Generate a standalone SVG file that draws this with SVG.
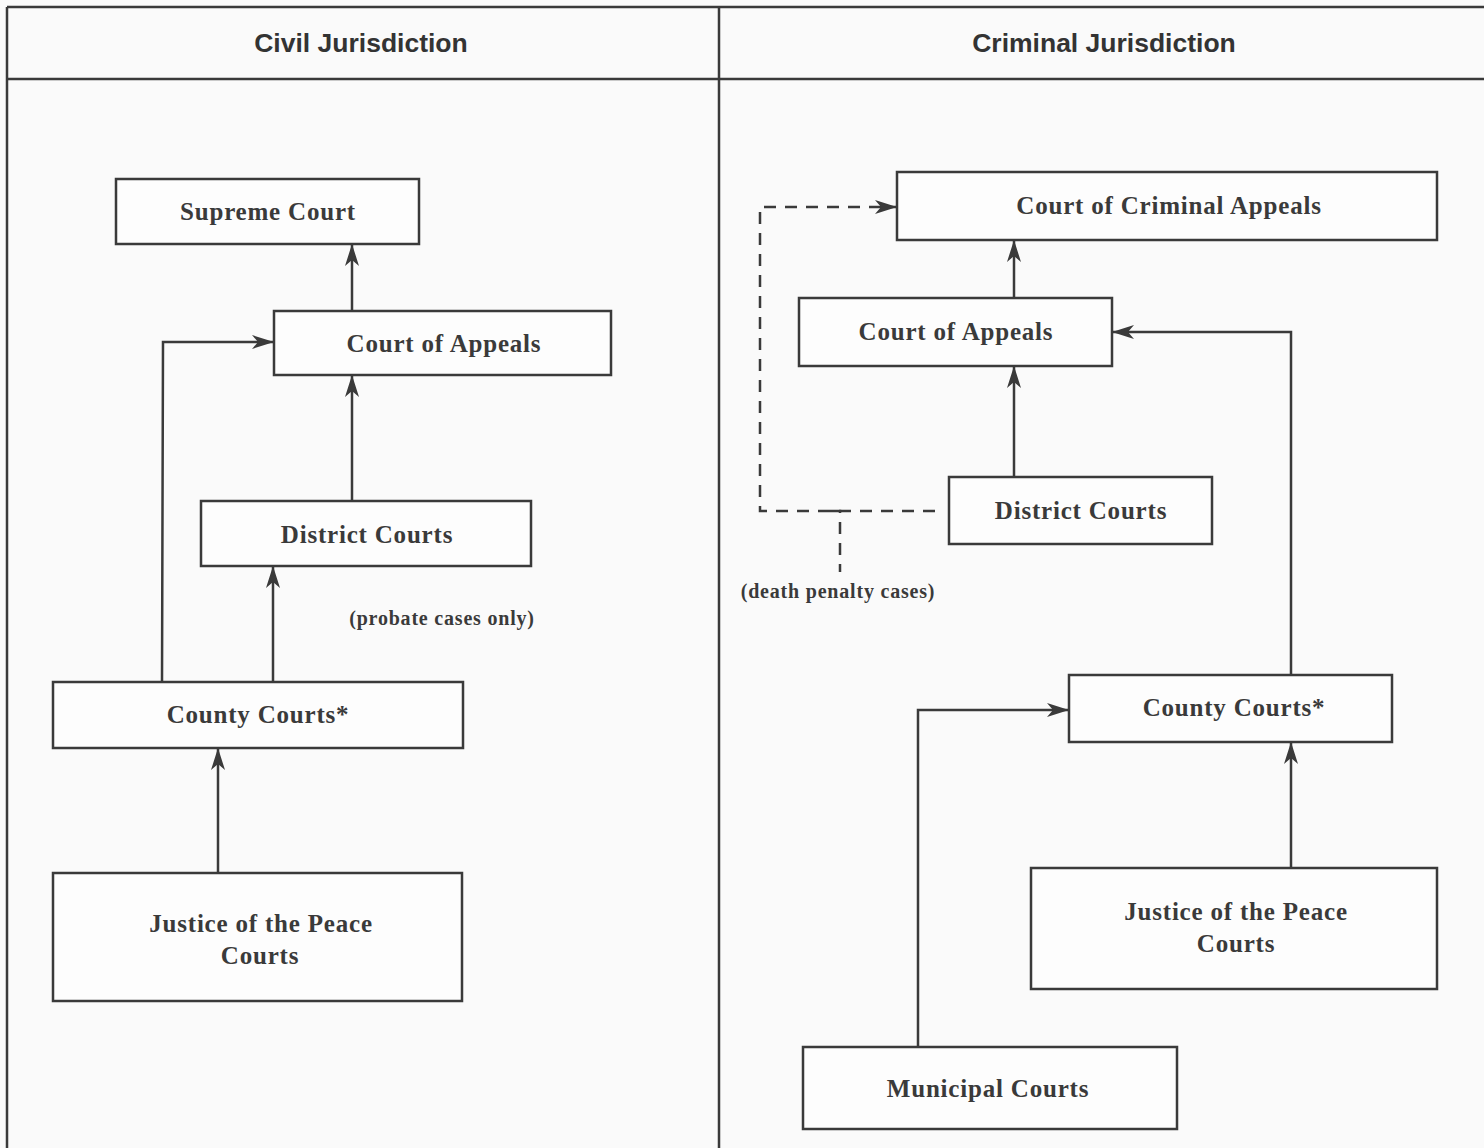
<svg xmlns="http://www.w3.org/2000/svg" width="1484" height="1148" viewBox="0 0 1484 1148">
<style>
.frame{fill:none;stroke:#3a3a3a;stroke-width:2.5}
.box{fill:#fdfdfd;stroke:#3a3a3a;stroke-width:2.5}
.hdr{font-family:"Liberation Sans",Arial,sans-serif;font-weight:bold;font-size:26.5px;fill:#333;text-anchor:middle}
.lbl{font-family:"Liberation Serif","Times New Roman",serif;font-weight:bold;font-size:25px;fill:#3a3a3a;text-anchor:middle;letter-spacing:0.8px}
.note{font-family:"Liberation Serif","Times New Roman",serif;font-weight:bold;font-size:20px;fill:#3a3a3a;text-anchor:middle;letter-spacing:0.8px}
.ln{fill:none;stroke:#3a3a3a;stroke-width:2.5}
.dash{fill:none;stroke:#3a3a3a;stroke-width:2.5;stroke-dasharray:12 9}
</style>
<defs>
<marker id="ah" viewBox="0 0 22 14" refX="21" refY="7" markerWidth="22" markerHeight="14" markerUnits="userSpaceOnUse" orient="auto">
<path d="M0,0 L22,7 L0,14 L6,7 z" fill="#3a3a3a"/>
</marker>
</defs>
<rect width="1484" height="1148" fill="#fafafa"/>
<g id="frame">
<line class="frame" x1="7" y1="7" x2="1484" y2="7"/>
<line class="frame" x1="7" y1="79" x2="1484" y2="79"/>
<line class="frame" x1="7" y1="7" x2="7" y2="1148"/>
<line class="frame" x1="719" y1="7" x2="719" y2="1148"/>
<text class="hdr" x="361" y="52">Civil Jurisdiction</text>
<text class="hdr" x="1104" y="52">Criminal Jurisdiction</text>
</g>
<g id="connectors">
<line class="ln" x1="352" y1="311" x2="352" y2="245" marker-end="url(#ah)"/>
<line class="ln" x1="352" y1="501" x2="352" y2="376" marker-end="url(#ah)"/>
<line class="ln" x1="273" y1="682" x2="273" y2="567" marker-end="url(#ah)"/>
<polyline class="ln" points="162,682 163,342 273,342" marker-end="url(#ah)"/>
<line class="ln" x1="218" y1="873" x2="218" y2="749" marker-end="url(#ah)"/>
<line class="ln" x1="1014" y1="298" x2="1014" y2="241" marker-end="url(#ah)"/>
<line class="ln" x1="1014" y1="477" x2="1014" y2="367" marker-end="url(#ah)"/>
<polyline class="ln" points="1291,675 1291,332 1113,332" marker-end="url(#ah)"/>
<line class="ln" x1="1291" y1="868" x2="1291" y2="743" marker-end="url(#ah)"/>
<polyline class="ln" points="918,1047 918,710 1068,710" marker-end="url(#ah)"/>
<polyline class="dash" points="935,511 760,511 760,207 896,207" marker-end="url(#ah)"/>
<polyline class="dash" points="830,511 840,511 840,572"/>
<text class="note" x="442" y="625">(probate cases only)</text>
<text class="note" x="838" y="598">(death penalty cases)</text>
</g>
<g id="civil-supreme"><rect class="box" x="116" y="179" width="303" height="65"/><text class="lbl" x="268" y="220">Supreme Court</text></g>
<g id="civil-appeals"><rect class="box" x="274" y="311" width="337" height="64"/><text class="lbl" x="444" y="352">Court of Appeals</text></g>
<g id="civil-district"><rect class="box" x="201" y="501" width="330" height="65"/><text class="lbl" x="367" y="543">District Courts</text></g>
<g id="civil-county"><rect class="box" x="53" y="682" width="410" height="66"/><text class="lbl" x="258" y="723">County Courts*</text></g>
<g id="civil-jp"><rect class="box" x="53" y="873" width="409" height="128"/><text class="lbl" x="261" y="932">Justice of the Peace</text><text class="lbl" x="260" y="964">Courts</text></g>
<g id="crim-cca"><rect class="box" x="897" y="172" width="540" height="68"/><text class="lbl" x="1169" y="214">Court of Criminal Appeals</text></g>
<g id="crim-appeals"><rect class="box" x="799" y="298" width="313" height="68"/><text class="lbl" x="956" y="340">Court of Appeals</text></g>
<g id="crim-district"><rect class="box" x="949" y="477" width="263" height="67"/><text class="lbl" x="1081" y="519">District Courts</text></g>
<g id="crim-county"><rect class="box" x="1069" y="675" width="323" height="67"/><text class="lbl" x="1234" y="716">County Courts*</text></g>
<g id="crim-jp"><rect class="box" x="1031" y="868" width="406" height="121"/><text class="lbl" x="1236" y="920">Justice of the Peace</text><text class="lbl" x="1236" y="952">Courts</text></g>
<g id="crim-municipal"><rect class="box" x="803" y="1047" width="374" height="82"/><text class="lbl" x="988" y="1097">Municipal Courts</text></g>
</svg>
